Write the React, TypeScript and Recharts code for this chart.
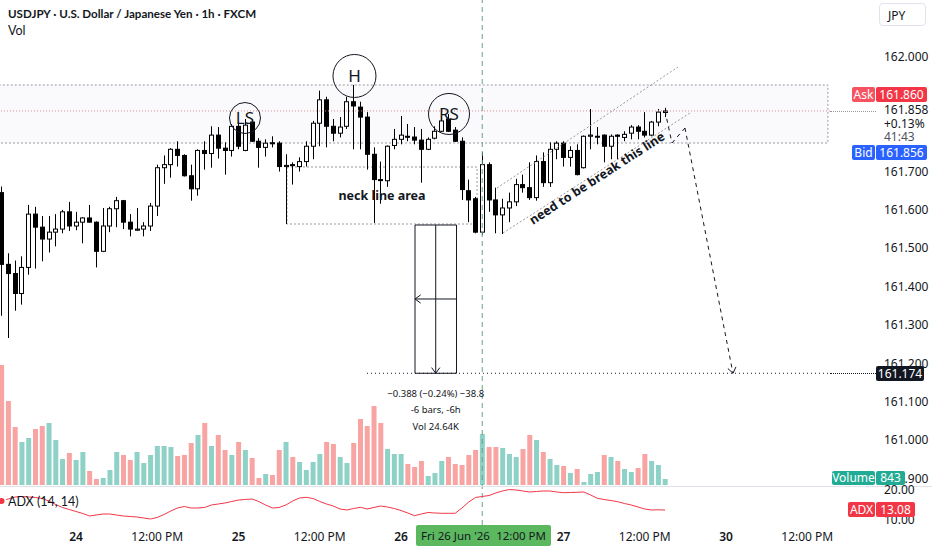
import {
  Bar,
  Cell,
  ComposedChart,
  Line,
  ReferenceArea,
  ReferenceDot,
  ReferenceLine,
  XAxis,
  YAxis,
} from "recharts";

// hourly USDJPY candles, 23rd 13:00 .. 27th 15:00
const opens = [
  161.645, 161.458, 161.434, 161.382, 161.45, 161.589, 161.555, 161.524, 161.542, 161.55,
  161.595, 161.558, 161.568, 161.579, 161.568, 161.492, 161.558, 161.603, 161.624, 161.568,
  161.547, 161.55, 161.558, 161.61, 161.71, 161.718, 161.758, 161.742, 161.689, 161.655,
  161.755, 161.747, 161.795, 161.761, 161.755, 161.818, 161.755, 161.829, 161.779, 161.763,
  161.775, 161.774, 161.713, 161.718, 161.713, 161.726, 161.766, 161.826, 161.887, 161.818,
  161.8, 161.818, 161.882, 161.868, 161.842, 161.745, 161.679, 161.676, 161.768, 161.784,
  161.792, 161.79, 161.782, 161.758, 161.787, 161.805, 161.837, 161.808, 161.779, 161.65,
  161.629, 161.542, 161.718, 161.626, 161.587, 161.605, 161.621, 161.666, 161.658, 161.632,
  161.726, 161.671, 161.758, 161.774, 161.737, 161.755, 161.71, 161.792, 161.791, 161.795,
  161.766, 161.795, 161.789, 161.8, 161.816, 161.805, 161.795, 161.829, 161.854,
];
const highs = [
  161.661, 161.487, 161.468, 161.479, 161.613, 161.608, 161.584, 161.584, 161.589, 161.6,
  161.621, 161.595, 161.581, 161.613, 161.57, 161.605, 161.608, 161.634, 161.626, 161.589,
  161.605, 161.568, 161.618, 161.718, 161.742, 161.761, 161.779, 161.745, 161.718, 161.758,
  161.779, 161.818, 161.816, 161.776, 161.824, 161.829, 161.837, 161.837, 161.787, 161.784,
  161.792, 161.779, 161.745, 161.724, 161.737, 161.779, 161.832, 161.911, 161.895, 161.837,
  161.842, 161.895, 161.926, 161.882, 161.855, 161.763, 161.726, 161.768, 161.811, 161.845,
  161.824, 161.816, 161.811, 161.789, 161.818, 161.842, 161.85, 161.816, 161.789, 161.679,
  161.634, 161.75, 161.724, 161.658, 161.629, 161.645, 161.681, 161.692, 161.724, 161.742,
  161.75, 161.776, 161.779, 161.779, 161.766, 161.771, 161.794, 161.863, 161.816, 161.797,
  161.797, 161.797, 161.805, 161.821, 161.821, 161.855, 161.832, 161.863, 161.866,
];
const lows = [
  161.324, 161.266, 161.337, 161.353, 161.431, 161.447, 161.466, 161.489, 161.505, 161.539,
  161.545, 161.547, 161.513, 161.568, 161.45, 161.49, 161.542, 161.555, 161.55, 161.531,
  161.545, 161.531, 161.545, 161.584, 161.668, 161.684, 161.713, 161.687, 161.624, 161.637,
  161.705, 161.71, 161.734, 161.692, 161.739, 161.758, 161.753, 161.777, 161.71, 161.739,
  161.763, 161.7, 161.563, 161.666, 161.7, 161.713, 161.732, 161.766, 161.763, 161.779,
  161.789, 161.811, 161.758, 161.758, 161.705, 161.566, 161.616, 161.66, 161.758, 161.771,
  161.779, 161.771, 161.671, 161.756, 161.784, 161.803, 161.803, 161.777, 161.626, 161.568,
  161.539, 161.534, 161.595, 161.539, 161.537, 161.568, 161.61, 161.645, 161.626, 161.624,
  161.66, 161.66, 161.732, 161.713, 161.713, 161.69, 161.708, 161.758, 161.771, 161.724,
  161.732, 161.732, 161.779, 161.784, 161.784, 161.789, 161.792, 161.818, 161.842,
];
const closes = [
  161.458, 161.434, 161.382, 161.45, 161.589, 161.555, 161.524, 161.542, 161.55, 161.595,
  161.558, 161.568, 161.579, 161.568, 161.492, 161.558, 161.603, 161.624, 161.568, 161.55,
  161.55, 161.558, 161.61, 161.71, 161.718, 161.758, 161.742, 161.689, 161.655, 161.755,
  161.747, 161.795, 161.761, 161.755, 161.818, 161.766, 161.821, 161.779, 161.763, 161.774,
  161.774, 161.713, 161.716, 161.716, 161.726, 161.766, 161.826, 161.887, 161.818, 161.8,
  161.816, 161.882, 161.871, 161.842, 161.745, 161.679, 161.678, 161.766, 161.784, 161.795,
  161.79, 161.782, 161.758, 161.784, 161.805, 161.832, 161.805, 161.779, 161.653, 161.626,
  161.542, 161.718, 161.626, 161.587, 161.605, 161.621, 161.666, 161.658, 161.632, 161.726,
  161.671, 161.758, 161.774, 161.737, 161.755, 161.692, 161.792, 161.795, 161.792, 161.766,
  161.792, 161.792, 161.797, 161.816, 161.805, 161.795, 161.829, 161.855, 161.858,
];
const volumes = [
  16800, 11760, 8120, 6020, 6580, 7840, 8260, 8680, 6300, 3640,
  4480, 3500, 4620, 1960, 840, 980, 2100, 4620, 4200, 3500,
  4620, 3080, 4200, 5460, 5460, 5320, 4060, 4200, 5880, 7000,
  8680, 5460, 7000, 4900, 4200, 6020, 4900, 3780, 980, 1540,
  1400, 4900, 6020, 3920, 3220, 2100, 3220, 4340, 6020, 5740,
  3920, 3080, 5880, 9240, 8260, 11060, 8680, 5040, 4340, 4340,
  2940, 2520, 3360, 1260, 1680, 3360, 3920, 2940, 2800, 4200,
  4900, 7140, 5320, 5320, 5180, 4340, 3920, 5040, 7000, 6300,
  4620, 3640, 2800, 2660, 1680, 2240, 420, 1540, 1820, 4200,
  3920, 3360, 2240, 1820, 2380, 4340, 3360, 2800, 843,
];
const adxValues = [
  16.21, 16.9, 17.59, 17.76, 17.59, 17.41, 17.07, 16.21, 15.0, 13.97,
  13.28, 12.59, 11.9, 11.03, 11.38, 11.72, 11.72, 11.38, 11.03, 10.86,
  10.69, 10.34, 10.0, 10.52, 11.55, 12.76, 13.79, 14.31, 13.79, 13.79,
  13.97, 14.83, 15.17, 15.52, 16.03, 16.55, 16.72, 16.9, 16.03, 14.83,
  13.79, 13.97, 14.83, 16.21, 17.24, 17.48, 17.07, 16.03, 15.17, 14.48,
  13.45, 13.1, 13.62, 14.03, 13.45, 13.97, 14.48, 14.14, 13.62, 12.93,
  12.07, 11.14, 11.72, 12.24, 12.07, 11.97, 11.97, 11.97, 13.79, 15.86,
  17.41, 17.76, 18.1, 18.97, 19.66, 20.17, 20.0, 19.66, 19.31, 19.48,
  19.66, 19.66, 19.31, 19.07, 19.14, 19.21, 19.31, 18.28, 17.14, 16.72,
  16.38, 15.97, 15.34, 14.83, 14.14, 13.45, 13.1, 13.17, 13.08,
];

const timeTicks = [11, 23, 35, 47, 59, 83, 95, 107, 119];
const timeLabels = ["24", "12:00 PM", "25", "12:00 PM", "26", "27", "12:00 PM", "30", "12:00 PM"];
const priceTicks = [160.9, 161.0, 161.1, 161.2, 161.3, 161.4, 161.5, 161.6, 161.7, 162.0];

const FONT = '"Noto Sans", sans-serif';
const HEAD_FONT = 'Lato, "Noto Sans", sans-serif';
const INK = "#131722";
const X_DOMAIN: [number, number] = [-0.2245, 122.36];
const PRICE_DOMAIN: [number, number] = [160.7784, 162.1473];

const rows = opens.map((o, i) => ({
  i,
  o,
  h: highs[i],
  l: lows[i],
  c: closes[i],
  range: [lows[i], highs[i]],
  vol: volumes[i],
  adx: adxValues[i],
  up: closes[i] >= o,
}));

const Candle = (props: any) => {
  const { x, y, width, height, payload } = props;
  const top = Math.min(y, y + height);
  const k = Math.abs(height) / (payload.h - payload.l);
  const py = (p: number) => top + (payload.h - p) * k;
  const cx = Math.floor(x + width / 2) + 0.5;
  const bTop = py(Math.max(payload.o, payload.c));
  const bBot = py(Math.min(payload.o, payload.c));
  return (
    <g>
      <line x1={cx} x2={cx} y1={py(payload.h)} y2={py(payload.l)} stroke="#000" strokeWidth={1} />
      <rect
        x={cx - 2}
        y={bTop}
        width={4}
        height={Math.max(1, bBot - bTop)}
        fill={payload.up ? "#fff" : "#000"}
        stroke="#000"
        strokeWidth={1}
      />
    </g>
  );
};

const PriceTick = (props: any) => (
  <text x={884} y={props.y} dy="0.35em" fontSize={12} fill={INK} fontFamily={FONT}>
    {Number(props.payload.value).toFixed(3)}
  </text>
);

const TimeTick = (props: any) => {
  const idx = timeTicks.indexOf(props.payload.value);
  const day = timeLabels[idx].length <= 2;
  return (
    <text
      x={props.x}
      y={537}
      dy="0.35em"
      textAnchor="middle"
      fontSize={12}
      fontWeight={day ? 600 : 400}
      fill={INK}
      fontFamily={FONT}
    >
      {timeLabels[idx]}
    </text>
  );
};

const arrowLine = (dash?: string) => (props: any) => {
  const { x1, y1, x2, y2 } = props;
  const a = Math.atan2(y2 - y1, x2 - x1);
  const len = 7;
  const s = Math.PI / 5;
  const ax = x2 - len * Math.cos(a - s);
  const ay = y2 - len * Math.sin(a - s);
  const bx = x2 - len * Math.cos(a + s);
  const by = y2 - len * Math.sin(a + s);
  return (
    <g>
      <line x1={x1} y1={y1} x2={x2} y2={y2} stroke={INK} strokeWidth={1} strokeDasharray={dash} />
      <path d={`M${ax},${ay} L${x2},${y2} L${bx},${by}`} fill="none" stroke={INK} strokeWidth={1} />
    </g>
  );
};

const rotatedNote = (props: any) => {
  const { viewBox } = props;
  const cx = viewBox.x + viewBox.width / 2;
  const cy = viewBox.y + viewBox.height / 2;
  return (
    <text
      x={cx}
      y={cy}
      transform={`rotate(-33 ${cx} ${cy})`}
      textAnchor="middle"
      dominantBaseline="central"
      fontSize={12.5}
      fontWeight={700}
      fill={INK}
      fontFamily={FONT}
    >
      need to be break this line
    </text>
  );
};

const measureNote = (props: any) => {
  const { viewBox } = props;
  const cx = viewBox.x + viewBox.width / 2;
  const cy = viewBox.y + viewBox.height / 2;
  const lines = ["\u22120.388 (\u22120.24%) \u221238.8", "-6 bars, -6h", "Vol 24.64K"];
  return (
    <g>
      {lines.map((t, n) => (
        <text
          key={t}
          x={cx}
          y={cy + 20 + n * 16.5}
          textAnchor="middle"
          dominantBaseline="central"
          fontSize={9.5}
          fill={INK}
          fontFamily={FONT}
        >
          {t}
        </text>
      ))}
    </g>
  );
};

const Tag = ({ left, top, width, height = 15, bg, children }: any) => (
  <div
    style={{
      position: "absolute",
      left,
      top,
      width,
      height,
      background: bg,
      color: "#fff",
      fontSize: 12,
      lineHeight: `${height}px`,
      textAlign: "center",
      borderRadius: 2,
      whiteSpace: "nowrap",
    }}
  >
    {children}
  </div>
);

const AxisText = ({ top, color = INK, children }: any) => (
  <div style={{ position: "absolute", left: 884, top: top - 8, height: 16, lineHeight: "16px", fontSize: 12, color }}>
    {children}
  </div>
);

const zoneStroke = "#9598a1";

export default function App() {
  return (
    <div
      style={{
        position: "absolute",
        left: 0,
        top: 0,
        width: 932,
        height: 550,
        background: "#fff",
        fontFamily: FONT,
        color: INK,
        overflow: "hidden",
      }}
    >
      <ComposedChart width={932} height={550} data={rows} margin={{ top: 0, right: 0, bottom: 0, left: 0 }}>
        <XAxis
          dataKey="i"
          type="number"
          domain={X_DOMAIN}
          allowDataOverflow
          ticks={timeTicks}
          interval={0}
          tick={TimeTick}
          tickLine={false}
          axisLine={false}
          height={25}
        />
        <XAxis xAxisId="v" dataKey="i" type="number" domain={X_DOMAIN} allowDataOverflow hide />
        <YAxis
          orientation="right"
          type="number"
          domain={PRICE_DOMAIN}
          allowDataOverflow
          ticks={priceTicks}
          interval={0}
          tick={PriceTick}
          tickLine={false}
          axisLine={false}
          width={102}
        />
        <YAxis yAxisId="vol" hide type="number" domain={[-5600, 67900]} allowDataOverflow />
        <YAxis yAxisId="adx" hide type="number" domain={[7.93, 188.97]} allowDataOverflow />

        <ReferenceArea
          x1={-1}
          x2={122.05}
          y1={161.7744}
          y2={161.9257}
          ifOverflow="hidden"
          fill="#eef0f4"
          fillOpacity={0.3}
          stroke={zoneStroke}
          strokeDasharray="2 2"
        />
        <ReferenceArea
          x1={42.16}
          x2={70.23}
          y1={161.5632}
          y2={161.7119}
          fill="none"
          stroke={zoneStroke}
          strokeDasharray="2 2"
          label={{ value: "neck line area", position: "center", fontSize: 12.5, fontWeight: 700, fill: INK }}
        />
        <ReferenceArea x1={61.07} x2={67.2} y1={161.174} y2={161.5606} fill="#fff" stroke={INK} strokeWidth={1} />
        <ReferenceLine
          segment={[
            { x: 64.13, y: 161.5606 },
            { x: 64.13, y: 161.174 },
          ]}
          shape={arrowLine()}
        />
        <ReferenceLine
          segment={[
            { x: 67.2, y: 161.3677 },
            { x: 61.07, y: 161.3677 },
          ]}
          shape={arrowLine()}
        />
        <ReferenceLine
          segment={[
            { x: 53.98, y: 161.174 },
            { x: 122.36, y: 161.174 },
          ]}
          stroke={INK}
          strokeDasharray="1 3"
        />
        <ReferenceDot x={64.13} y={161.174} r={1} fill="none" stroke="none" label={measureNote} />

        <ReferenceLine y={161.858} stroke="#d98a92" strokeDasharray="1 2" />
        <ReferenceLine x={71} stroke="#6d9f84" strokeDasharray="5 4" />

        <ReferenceLine
          segment={[
            { x: 73.18, y: 161.6571 },
            { x: 99.91, y: 161.9726 },
          ]}
          stroke={zoneStroke}
          strokeDasharray="2 2"
        />
        <ReferenceLine
          segment={[
            { x: 74.06, y: 161.5398 },
            { x: 101.68, y: 161.8527 },
          ]}
          stroke={zoneStroke}
          strokeDasharray="2 2"
        />

        <Bar dataKey="range" barSize={5} shape={Candle} isAnimationActive={false} />
        <Bar xAxisId="v" yAxisId="vol" dataKey="vol" barSize={5} isAnimationActive={false}>
          {rows.map((r) => (
            <Cell key={r.i} fill={r.up ? "#8ed1c6" : "#f7a4a3"} />
          ))}
        </Bar>
        <Line
          yAxisId="adx"
          dataKey="adx"
          stroke="#f23645"
          strokeWidth={1}
          dot={false}
          isAnimationActive={false}
        />

        <ReferenceDot
          x={35.96}
          y={161.8396}
          r={15.5}
          fill="none"
          stroke={INK}
          label={{ value: "LS", position: "center", fontSize: 17, fill: INK }}
        />
        <ReferenceDot
          x={52.13}
          y={161.9492}
          r={21.5}
          fill="none"
          stroke={INK}
          label={{ value: "H", position: "center", fontSize: 17, fill: INK }}
        />
        <ReferenceDot
          x={66.09}
          y={161.8501}
          r={20.5}
          fill="none"
          stroke={INK}
          label={{ value: "RS", position: "center", fontSize: 17, fill: INK }}
        />
        <ReferenceDot x={87.94} y={161.6832} r={1} fill="none" stroke="none" label={rotatedNote} />

        <ReferenceLine
          segment={[
            { x: 98.0, y: 161.858 },
            { x: 99.02, y: 161.7744 },
          ]}
          stroke={INK}
          strokeDasharray="4 4"
        />
        <ReferenceLine
          segment={[
            { x: 99.02, y: 161.7744 },
            { x: 100.94, y: 161.8136 },
          ]}
          stroke={INK}
          strokeDasharray="4 4"
        />
        <ReferenceLine
          segment={[
            { x: 100.94, y: 161.8136 },
            { x: 108.03, y: 161.174 },
          ]}
          shape={arrowLine("4 4")}
        />
      </ComposedChart>

      {/* pane separator */}
      <div style={{ position: "absolute", left: 0, top: 486, width: 932, height: 1, background: "#e0e3eb" }} />
      {/* price lines running into the scale */}
      <div style={{ position: "absolute", left: 830, top: 111, width: 46, borderTop: "1px dotted #9598a1" }} />
      <div style={{ position: "absolute", left: 830, top: 373, width: 46, borderTop: "1px dotted #131722" }} />

      <div
        style={{
          position: "absolute",
          left: 8,
          top: 7,
          fontSize: 11.6,
          fontWeight: 700,
          whiteSpace: "nowrap",
          fontFamily: HEAD_FONT,
        }}
      >
        USDJPY · U.S. Dollar / Japanese Yen · 1h · FXCM
      </div>
      <div style={{ position: "absolute", left: 8, top: 23, fontSize: 12.5, fontFamily: HEAD_FONT }}>Vol</div>
      <div style={{ position: "absolute", left: 8, top: 494, fontSize: 12.5, fontFamily: HEAD_FONT }}>
        ADX (14, 14)
      </div>

      <div
        style={{
          position: "absolute",
          left: 879,
          top: 3,
          width: 47,
          height: 23,
          border: "1px solid #e0e3eb",
          borderRadius: 4,
          fontSize: 12,
          lineHeight: "23px",
          paddingLeft: 8,
          boxSizing: "border-box",
        }}
      >
        JPY
      </div>

      <Tag left={852} top={87} width={23} bg="#f7525f">
        Ask
      </Tag>
      <Tag left={876} top={87} width={51} bg="#f23645">
        161.860
      </Tag>
      <AxisText top={110}>161.858</AxisText>
      <AxisText top={124}>+0.13%</AxisText>
      <AxisText top={137} color="#50535e">
        41:43
      </AxisText>
      <Tag left={852} top={145} width={23} bg="#2962ff">
        Bid
      </Tag>
      <Tag left={876} top={145} width={51} bg="#2962ff">
        161.856
      </Tag>
      <Tag left={876} top={366} width={48} bg="#131722">
        161.174
      </Tag>
      <Tag left={832} top={471} width={43} height={14} bg="#22ab94">
        Volume
      </Tag>
      <Tag left={876} top={471} width={29} height={14} bg="#22ab94">
        843
      </Tag>
      <AxisText top={490}>20.00</AxisText>
      <AxisText top={520}>10.00</AxisText>
      <Tag left={848} top={502} width={27} bg="#f23645">
        ADX
      </Tag>
      <Tag left={876} top={502} width={39} bg="#f23645">
        13.08
      </Tag>

      <div
        style={{
          position: "absolute",
          left: 416,
          top: 525,
          width: 135,
          height: 21,
          background: "#5cb85f",
          borderRadius: 2,
          fontSize: 11.5,
          lineHeight: "21px",
          display: "flex",
          justifyContent: "space-between",
          padding: "0 5px",
          boxSizing: "border-box",
          color: INK,
          whiteSpace: "nowrap",
        }}
      >
        <span>Fri 26 Jun '26</span>
        <span>12:00 PM</span>
      </div>
    </div>
  );
}
